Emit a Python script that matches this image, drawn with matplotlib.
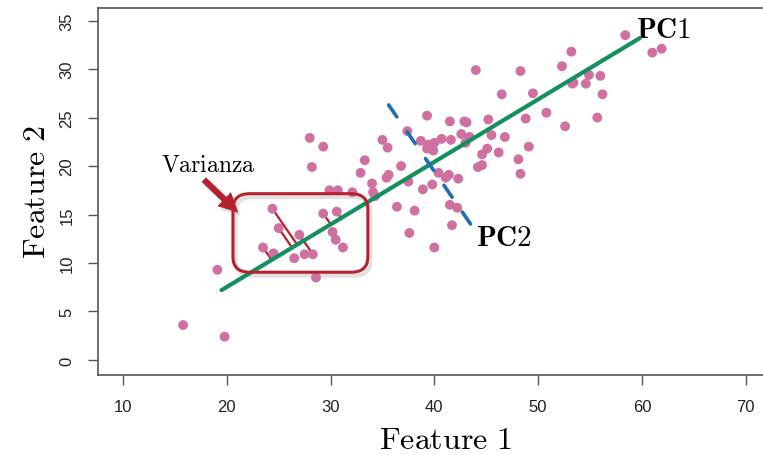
import numpy as np
import matplotlib
matplotlib.use("Agg")
import matplotlib.pyplot as plt
from matplotlib.patches import FancyBboxPatch, FancyArrowPatch

plt.rcParams['mathtext.fontset'] = 'cm'
plt.rcParams['font.family'] = ['Liberation Sans', 'DejaVu Sans']
plt.rcParams['savefig.bbox'] = 'standard'

# datos
feature1 = [15.8, 19.8, 19.1, 23.5, 24.5, 24.4, 25.0, 26.5, 27.0, 27.5,
            28.3, 28.6, 29.3, 30.6, 30.2, 30.5, 31.2, 29.9, 30.7, 32.1,
            28.0, 29.3, 28.2, 32.9, 33.3, 34.0, 34.1, 34.3, 35.0, 35.5,
            35.4, 35.6, 36.4, 36.8, 37.4, 37.5, 38.1, 37.6, 38.7, 38.9,
            39.3, 39.3, 39.4, 39.8, 39.9, 40.0, 40.0, 40.4, 40.7, 41.4,
            41.1, 41.5, 41.6, 41.5, 42.2, 41.7, 42.3, 42.6, 42.9, 43.1,
            43.4, 43.0, 44.0, 44.2, 44.6, 44.6, 45.1, 45.2, 45.5, 46.2,
            46.5, 46.8, 48.1, 48.3, 48.3, 48.8, 49.1, 49.5, 50.8, 52.3,
            52.6, 53.2, 53.3, 53.4, 54.6, 54.9, 55.7, 56.0, 56.2, 58.4,
            61.0, 61.9]
feature2 = [3.6, 2.4, 9.3, 11.6, 11.0, 15.6, 13.6, 10.5, 12.9, 10.9,
            10.9, 8.5, 15.1, 15.3, 13.2, 12.4, 11.6, 17.5, 17.5, 17.3,
            22.9, 22.0, 19.9, 19.3, 20.6, 18.2, 17.3, 16.9, 22.7, 21.9,
            18.8, 19.1, 15.8, 20.0, 23.6, 18.4, 15.4, 13.1, 22.6, 17.6,
            25.2, 21.8, 22.2, 18.1, 21.6, 22.4, 11.6, 19.3, 22.8, 19.1,
            18.8, 24.6, 22.7, 16.0, 15.7, 13.9, 18.7, 23.3, 24.6, 24.5,
            23.0, 22.4, 29.9, 19.9, 20.1, 21.2, 21.8, 24.8, 23.2, 21.4,
            27.4, 23.0, 20.7, 19.2, 29.8, 24.9, 22.0, 27.5, 25.5, 30.3,
            24.1, 31.8, 28.5, 28.6, 28.5, 29.4, 25.0, 29.3, 27.4, 33.5,
            31.7, 32.1]

# puntos con residuo dibujado (dentro del recuadro)
resid_idx = [3, 5, 6, 8, 10, 12, 13]

# extremos de las componentes principales
pc1_x = [19.5, 59.8]
pc1_y = [7.2, 33.2]
pc2_x = [35.6, 43.7]
pc2_y = [26.3, 13.7]

x_ticks = [10, 20, 30, 40, 50, 60, 70]
y_ticks = [0, 5, 10, 15, 20, 25, 30, 35]

red = '#b5212f'
pink = '#d070a0'
green = '#14905e'
blue = '#1f6db5'

fig = plt.figure(figsize=(7.63, 4.56), dpi=100)
# el panel sigue mas alla del borde derecho, como en el original
ax = fig.add_axes([98 / 763, 80 / 456, 694 / 763, 367 / 456])
ax.set_xlim(7.6, 7.6 + 694 / 10.38)
ax.set_ylim(-1.55, 36.3)

ax.scatter(feature1, feature2, s=50, color=pink, edgecolors='none', zorder=3)

# residuos: proyeccion perpendicular sobre PC1
p0 = np.array([pc1_x[0], pc1_y[0]])
d = np.array([pc1_x[1] - pc1_x[0], pc1_y[1] - pc1_y[0]])
d = d / np.linalg.norm(d)
for i in resid_idx:
    p = np.array([feature1[i], feature2[i]])
    q = p0 + np.dot(p - p0, d) * d
    ax.plot([p[0], q[0]], [p[1], q[1]], color=red, lw=1.6, zorder=2)

ax.plot(pc1_x, pc1_y, color=green, lw=3, solid_capstyle='round', zorder=4)
ax.plot(pc2_x, pc2_y, color=blue, lw=2.6, dashes=(4, 5),
        dash_capstyle='round', zorder=4)

ax.text(59.4, 34.1, r'$\mathbf{PC1}$', fontsize=21, ha='left', va='center')
ax.text(44.0, 12.7, r'$\mathbf{PC2}$', fontsize=21, ha='left', va='center')
ax.text(18.2, 20.2, r'$\mathrm{Varianza}$', fontsize=17, ha='center', va='center')

# recuadro redondeado con sombra
box_kw = dict(boxstyle='round,pad=0,rounding_size=1.6')
shadow = FancyBboxPatch((20.85, 8.7), 13.0, 8.1, fc='none', ec='#888888',
                        lw=3, alpha=0.25, zorder=1, **box_kw)
ax.add_patch(shadow)
box = FancyBboxPatch((20.6, 9.05), 13.0, 8.1, fc='none', ec=red, lw=2.2,
                     zorder=5, **box_kw)
ax.add_patch(box)

arrow_style = 'simple,head_length=1.4,head_width=1.4,tail_width=0.45'
arrow_shadow = FancyArrowPatch((17.85, 18.45), (21.55, 14.65), arrowstyle=arrow_style,
                               mutation_scale=10, color='#888888', alpha=0.25, lw=0, zorder=1)
ax.add_patch(arrow_shadow)
arrow = FancyArrowPatch((17.6, 18.8), (21.3, 15.0), arrowstyle=arrow_style,
                        mutation_scale=10, color=red, lw=0, zorder=5)
ax.add_patch(arrow)

ax.set_xticks(x_ticks)
ax.set_yticks(y_ticks)
ax.tick_params(direction='out', length=7, width=1, color='#555555',
               labelsize=12, labelcolor='#222222')
ax.tick_params(axis='x', pad=10)
ax.tick_params(axis='y', pad=10)
for lab in ax.get_yticklabels():
    lab.set_rotation(90)
    lab.set_va('center')
for s in ax.spines.values():
    s.set_color('#555555')
    s.set_linewidth(1.2)

ax.set_xlabel(r'$\mathrm{Feature\ 1}$', fontsize=23, labelpad=8)
ax.set_ylabel(r'$\mathrm{Feature\ 2}$', fontsize=23, labelpad=5)

fig.savefig('out.png', dpi=100)
